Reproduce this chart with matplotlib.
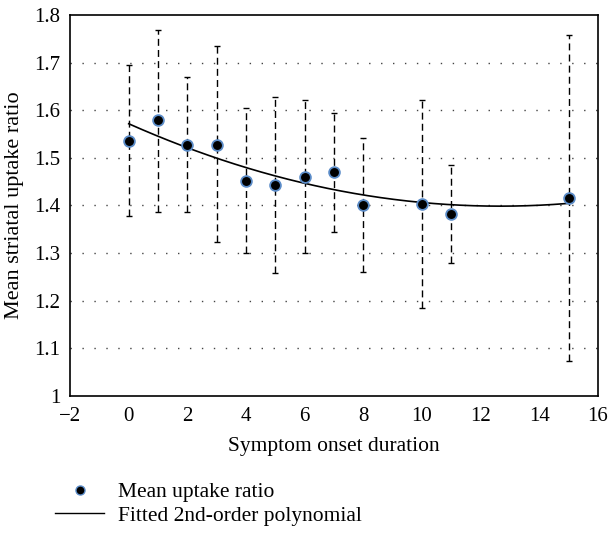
import numpy as np
import matplotlib.pyplot as plt
from matplotlib.lines import Line2D

# --------------------------------------------
# Data
# --------------------------------------------
onset_years = [0, 1, 2, 3, 4, 5, 6, 7, 8, 10, 11, 15]
mean_ratio = [1.535, 1.579, 1.527, 1.527, 1.451, 1.443, 1.460, 1.470, 1.401, 1.403, 1.382, 1.415]
upper_ratio = [1.694, 1.769, 1.670, 1.735, 1.604, 1.628, 1.621, 1.594, 1.542, 1.622, 1.485, 1.758]
lower_ratio = [1.378, 1.386, 1.386, 1.323, 1.300, 1.258, 1.300, 1.344, 1.260, 1.184, 1.279, 1.073]

x = np.array(onset_years)
y = np.array(mean_ratio)
err_low = y - np.array(lower_ratio)
err_high = np.array(upper_ratio) - y

# 2nd-order polynomial fit of the means
coef = np.polyfit(x, y, 2)
x_fit = np.linspace(0, 15, 200)
y_fit = np.polyval(coef, x_fit)

plt.rcParams["font.family"] = ["Liberation Serif", "DejaVu Serif"]

fig = plt.figure(figsize=(6.1, 5.33), dpi=100)
ax = fig.add_axes([0.1148, 0.257, 0.8655, 0.715])

# horizontal dotted grid
for gy in [1.1, 1.2, 1.3, 1.4, 1.5, 1.6, 1.7]:
    ax.axhline(gy, color="#444444", linestyle=(0, (1, 7.6)), linewidth=1.0, zorder=0)

eb = ax.errorbar(x, y, yerr=[err_low, err_high], fmt="none", ecolor="black",
                 elinewidth=1.0, capsize=2, capthick=1.0, zorder=2)
eb[2][0].set_linestyle((0, (5, 3)))

ax.plot(x_fit, y_fit, color="black", linewidth=1.2, zorder=3)
ax.scatter(x, y, s=60, color="black", edgecolor="#5b8cc8", linewidth=1.3, zorder=4)

ax.set_xlim(-2, 16)
ax.set_ylim(1, 1.8)
ax.set_xticks(range(-2, 17, 2))
ax.set_xticklabels(["\u22122"] + [str(v) for v in range(0, 17, 2)])
ax.set_yticks([1, 1.1, 1.2, 1.3, 1.4, 1.5, 1.6, 1.7, 1.8])
ax.set_yticklabels(["1", "1.1", "1.2", "1.3", "1.4", "1.5", "1.6", "1.7", "1.8"])
ax.tick_params(length=0, labelsize=15)
ax.tick_params(axis="x", pad=8)
ax.tick_params(axis="y", pad=7)
for s in ax.spines.values():
    s.set_linewidth(1.2)

ax.set_xlabel("Symptom onset duration", fontsize=15.5, labelpad=8)
ax.set_ylabel("Mean striatal uptake ratio", fontsize=16, labelpad=7)

handles = [
    Line2D([], [], linestyle="none", marker="o", markersize=6.5, markerfacecolor="black",
           markeredgecolor="#5b8cc8", markeredgewidth=1.0),
    Line2D([], [], color="black", linewidth=1.0),
]
fig.legend(handles, ["Mean uptake ratio", "Fitted 2nd-order polynomial"],
           loc="center left", bbox_to_anchor=(0.09, 0.0544), frameon=False,
           fontsize=15.5, handlelength=2.3, handletextpad=0.65, labelspacing=0.15,
           borderaxespad=0, borderpad=0)

fig.savefig("out.png", dpi=100)
plt.close(fig)
